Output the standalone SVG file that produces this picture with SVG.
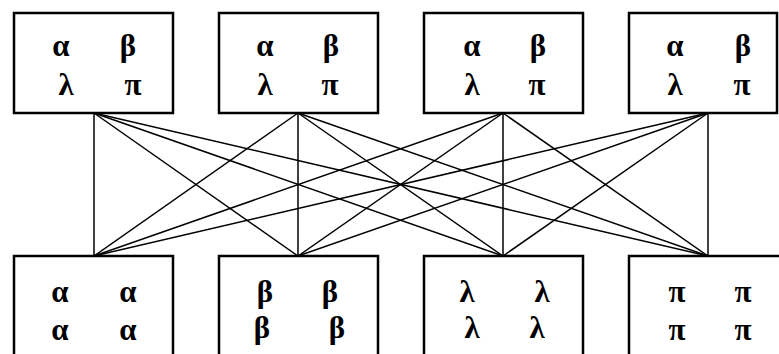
<svg xmlns="http://www.w3.org/2000/svg" width="779" height="354" viewBox="0 0 779 354">
  <style>
    .box { fill: #fff; stroke: #000; stroke-width: 2.5; }
    .sym { font-family: "Liberation Serif", "DejaVu Serif", serif; font-size: 31px; font-weight: bold; text-anchor: middle; fill: #000; }
    .link { stroke: #000; stroke-width: 1.5; fill: none; }
  </style>
  <rect width="779" height="354" fill="#fff"/>

  <!-- complete bipartite links: each upper port to each lower port -->
  <g id="connectors">
    <line class="link" x1="94" y1="113" x2="94" y2="256"/>
    <line class="link" x1="94" y1="113" x2="298" y2="256"/>
    <line class="link" x1="94" y1="113" x2="503" y2="256"/>
    <line class="link" x1="94" y1="113" x2="708" y2="256"/>
    <line class="link" x1="298" y1="113" x2="94" y2="256"/>
    <line class="link" x1="298" y1="113" x2="298" y2="256"/>
    <line class="link" x1="298" y1="113" x2="503" y2="256"/>
    <line class="link" x1="298" y1="113" x2="708" y2="256"/>
    <line class="link" x1="503" y1="113" x2="94" y2="256"/>
    <line class="link" x1="503" y1="113" x2="298" y2="256"/>
    <line class="link" x1="503" y1="113" x2="503" y2="256"/>
    <line class="link" x1="503" y1="113" x2="708" y2="256"/>
    <line class="link" x1="708" y1="113" x2="94" y2="256"/>
    <line class="link" x1="708" y1="113" x2="298" y2="256"/>
    <line class="link" x1="708" y1="113" x2="503" y2="256"/>
    <line class="link" x1="708" y1="113" x2="708" y2="256"/>
  </g>

  <!-- upper row -->
  <g id="top1">
    <rect class="box" x="14" y="13" width="159" height="100"/>
    <text class="sym" x="61" y="56">α</text><text class="sym" x="128" y="56">β</text>
    <text class="sym" x="66" y="95">λ</text><text class="sym" x="133" y="95">π</text>
  </g>
  <g id="top2">
    <rect class="box" x="219" y="13" width="159" height="100"/>
    <text class="sym" x="265" y="56">α</text><text class="sym" x="331" y="56">β</text>
    <text class="sym" x="265" y="95">λ</text><text class="sym" x="330" y="95">π</text>
  </g>
  <g id="top3">
    <rect class="box" x="424" y="13" width="159" height="100"/>
    <text class="sym" x="472" y="56">α</text><text class="sym" x="538" y="56">β</text>
    <text class="sym" x="472" y="95">λ</text><text class="sym" x="537" y="95">π</text>
  </g>
  <g id="top4">
    <rect class="box" x="629" y="13" width="148" height="100"/>
    <text class="sym" x="675" y="56">α</text><text class="sym" x="743" y="56">β</text>
    <text class="sym" x="675" y="95">λ</text><text class="sym" x="742" y="95">π</text>
  </g>

  <!-- lower row -->
  <g id="bottom1">
    <rect class="box" x="14" y="256" width="159" height="120"/>
    <text class="sym" x="60" y="302">α</text><text class="sym" x="128" y="302">α</text>
    <text class="sym" x="60" y="340">α</text><text class="sym" x="128" y="340">α</text>
  </g>
  <g id="bottom2">
    <rect class="box" x="219" y="256" width="159" height="120"/>
    <text class="sym" x="265" y="302">β</text><text class="sym" x="330" y="302">β</text>
    <text class="sym" x="262" y="338">β</text><text class="sym" x="337" y="338">β</text>
  </g>
  <g id="bottom3">
    <rect class="box" x="424" y="256" width="159" height="120"/>
    <text class="sym" x="467" y="302">λ</text><text class="sym" x="542" y="302">λ</text>
    <text class="sym" x="472" y="338">λ</text><text class="sym" x="537" y="338">λ</text>
  </g>
  <g id="bottom4">
    <rect class="box" x="629" y="256" width="170" height="120"/>
    <text class="sym" x="677" y="302">π</text><text class="sym" x="743" y="302">π</text>
    <text class="sym" x="677" y="340">π</text><text class="sym" x="743" y="340">π</text>
  </g>
</svg>
